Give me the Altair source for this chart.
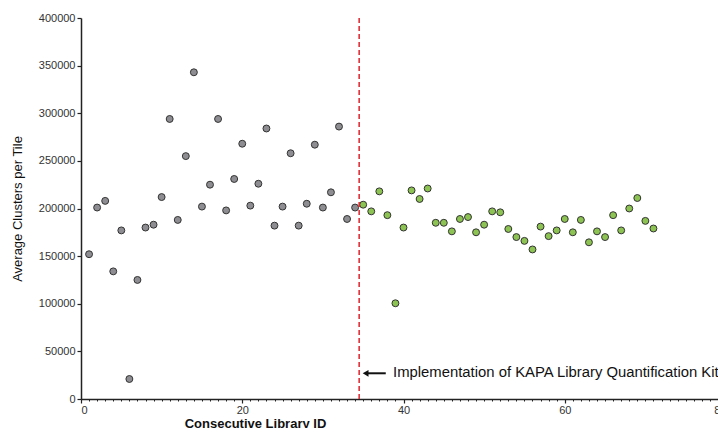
import altair as alt
import pandas as pd

# Data
before_ids = list(range(1, 35))
before_clusters = [152000, 201000, 208000, 134000, 177000, 21000, 125000, 180000, 183000, 212000,
                   294000, 188000, 255000, 343000, 202000, 225000, 294000, 198000, 231000, 268000,
                   203000, 226000, 284000, 182000, 202000, 258000, 182000, 205000, 267000, 201000,
                   217000, 286000, 189000, 201000]
after_ids = list(range(35, 72))
after_clusters = [204000, 197000, 218000, 193000, 100500, 180000, 219000, 210000, 221000, 185000,
                  185000, 176000, 189000, 191000, 175000, 183000, 197000, 196000, 178500, 170000,
                  166000, 157000, 181000, 171000, 177000, 189000, 175000, 188000, 164500, 176000,
                  170000, 193000, 177000, 200000, 211000, 187000, 179000]
groups = ["Before KAPA", "After KAPA"]
group_colors = ["#8e8e92", "#8cc352"]

kapa_line_x = [34.5]
arrow_x = [35.3]
arrow_x2 = [37.8]
arrow_y = [27000]
label_text = ["Implementation of KAPA Library Quantification Kit"]
label_x = [38.7]

x_major = [0, 20, 40, 60, 80]
x_minor = list(range(0, 81))
y_ticks = list(range(0, 400001, 50000))

Y_TITLE = "Average Clusters per Tile"

df = pd.DataFrame({
    "id": before_ids + after_ids,
    "clusters": before_clusters + after_clusters,
    "group": [groups[0]] * len(before_ids) + [groups[1]] * len(after_ids),
})
line_df = pd.DataFrame({"x": kapa_line_x})
arrow_df = pd.DataFrame({"x": arrow_x, "x2": arrow_x2, "y": arrow_y})
text_df = pd.DataFrame({"x": label_x, "y": arrow_y, "t": label_text})

FONT = "Liberation Sans"
xscale = alt.Scale(domain=[0, 80], nice=False, zero=False)
yscale = alt.Scale(domain=[0, 400000], nice=False)

yaxis = alt.Axis(values=y_ticks, format="d", title=Y_TITLE,
                 tickSize=4, labelPadding=2, labelFontSize=11, labelColor="#333333",
                 titleFontSize=13, titleFontWeight="normal", titleColor="#111111",
                 titlePadding=14, grid=False, domainColor="#222222", domainWidth=1.5,
                 tickColor="#222222", tickWidth=1.2, labelFont=FONT, titleFont=FONT)

points = alt.Chart(df).mark_point(filled=True, size=48, stroke="#333333", strokeWidth=1, opacity=1).encode(
    x=alt.X("id:Q", scale=xscale,
            axis=alt.Axis(values=x_major, title="Consecutive Library ID", orient="bottom",
                          tickSize=4, labelPadding=1, labelFontSize=11, labelColor="#333333",
                          titleFontSize=13, titleFontWeight="bold", titleColor="#111111",
                          titlePadding=2, titleX=174, grid=False, domainColor="#222222",
                          domainWidth=1.5, tickColor="#222222", tickWidth=1.2, labelFont=FONT,
                          titleFont=FONT)),
    y=alt.Y("clusters:Q", scale=yscale, axis=yaxis),
    fill=alt.Fill("group:N", scale=alt.Scale(domain=groups, range=group_colors), legend=None),
)

vline = alt.Chart(line_df).mark_rule(color="#e0242c", strokeDash=[5, 3], strokeWidth=1.5).encode(
    x=alt.X("x:Q", scale=xscale,
            axis=alt.Axis(values=x_minor, labels=False, domain=False, title=None, orient="bottom",
                          tickSize=2, tickColor="#222222", tickWidth=1, grid=False)),
)

arrow = alt.Chart(arrow_df).mark_rule(color="#111111", strokeWidth=2).encode(
    x=alt.X("x:Q", scale=xscale, axis=None), x2="x2:Q",
    y=alt.Y("y:Q", scale=yscale, axis=yaxis),
)
head = alt.Chart(arrow_df).mark_point(shape="triangle-left", filled=True, color="#111111",
                                      size=45, opacity=1).encode(
    x=alt.X("x:Q", scale=xscale, axis=None),
    y=alt.Y("y:Q", scale=yscale, axis=yaxis),
)
text = alt.Chart(text_df).mark_text(align="left", baseline="middle", fontSize=14.85, font=FONT,
                                    color="#111111").encode(
    x=alt.X("x:Q", scale=xscale, axis=None),
    y=alt.Y("y:Q", scale=yscale, axis=yaxis), text="t:N",
)

chart = alt.layer(points, vline, arrow, head, text).resolve_axis(x="independent", y="shared").properties(
    width=645, height=381,
    autosize=alt.AutoSizeParams(type="none"),
    padding={"left": 73, "top": 10, "right": -8, "bottom": 29},
).configure_view(stroke=None)

chart.save("out.html", embed_options={"renderer": "svg", "actions": False})
